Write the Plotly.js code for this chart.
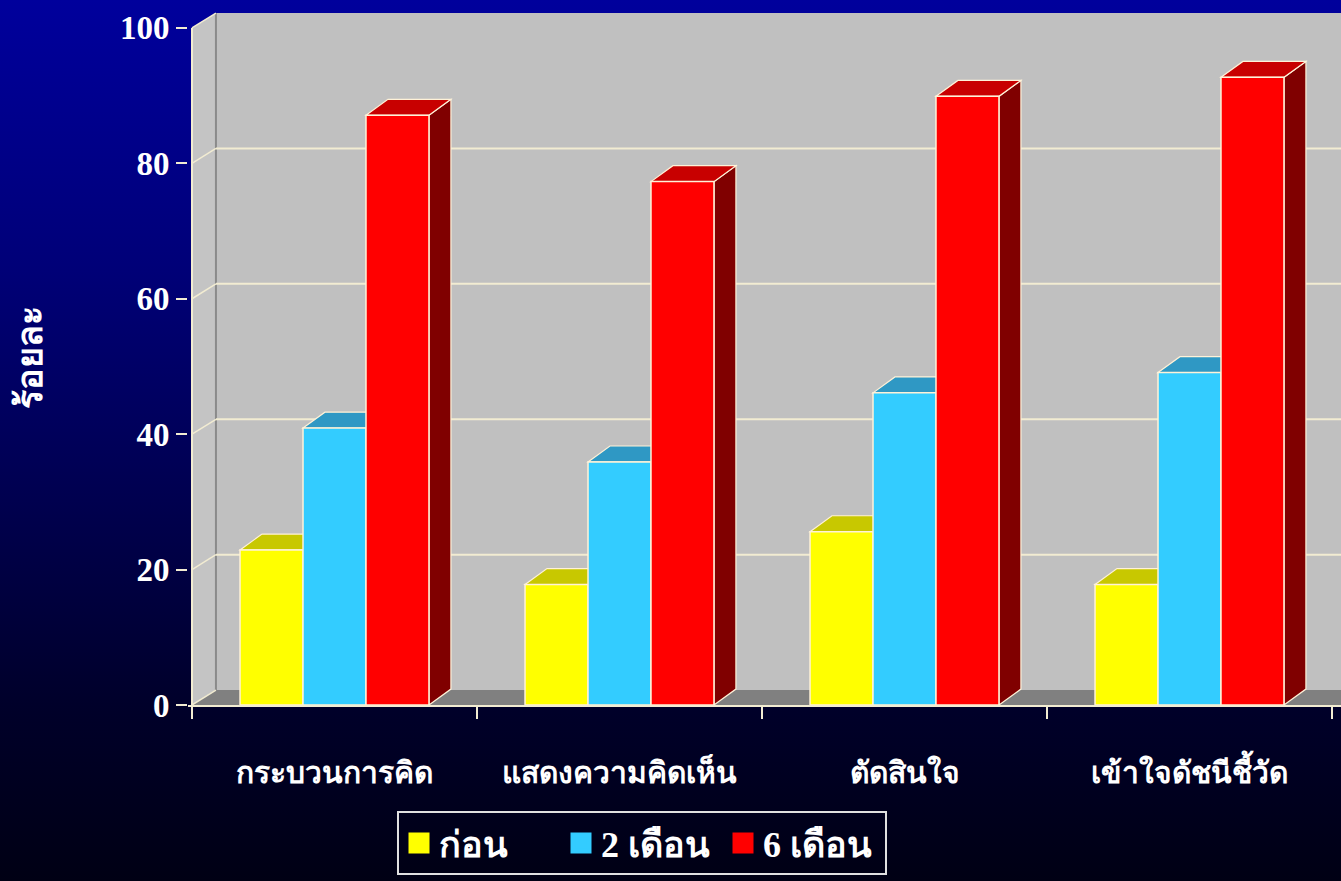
<!DOCTYPE html>
<html>
<head>
<meta charset="utf-8">
<script src="https://cdn.plot.ly/plotly-3.0.1.min.js"></script>
<style>
  html, body { margin: 0; padding: 0; }
  body { width: 1341px; height: 881px; overflow: hidden;
         background: linear-gradient(to bottom, #00009c 0%, #000078 30%, #00004a 60%, #00002a 80%, #000014 100%); }
  #chart { width: 1341px; height: 881px; }
</style>
</head>
<body>
<div id="chart"></div>
<script>
// ---- data ----
const categories = ['กระบวนการคิด', 'แสดงความคิดเห็น', 'ตัดสินใจ', 'เข้าใจดัชนีชี้วัด'];
const seriesNames = ['ก่อน', '2 เดือน', '6 เดือน'];
const before = [22.9, 17.8, 25.6, 17.8];
const twoMonths = [40.9, 35.9, 46.1, 49.1];
const sixMonths = [87.1, 77.3, 89.9, 92.7];
const yTicks = [0, 20, 40, 60, 80, 100];
const yTitle = 'ร้อยละ';

// ---- style ----
const frontColors = ['#FFFF00', '#33CCFF', '#FF0000'];
const topColors = ['#C8C800', '#2F98C4', '#C80000'];
const sideColors = ['#999900', '#1F7FA8', '#800000'];
const edge = '#FFF2D8';
const cream = '#F2ECD2';
const W = 0.221, OFF0 = -0.3315;       // bar width / first bar offset (category units)
const DXB = 0.077, DYB = 2.35;          // bar depth
const DXW = 0.084, DYW = 2.2;           // wall depth
const XL = -0.5, XR = 4.2;
const font = 'Liberation Serif, "Times New Roman", serif';
const PLOT_H = 694;

const allSeries = [before, twoMonths, sixMonths];
const xIdx = categories.map((c, i) => i);

const traces = allSeries.map((vals, k) => ({
  type: 'bar',
  name: seriesNames[k],
  x: xIdx,
  y: vals,
  width: W,
  offset: OFF0 + k * W,
  marker: { color: frontColors[k], line: { color: edge, width: 1.5 } },
  showlegend: false,
  hoverinfo: 'y+name'
}));
// legend proxies (large square swatches)
seriesNames.forEach((n, k) => {
  traces.push({
    type: 'scatter', mode: 'markers', name: n,
    x: [null], y: [null],
    marker: { symbol: 'square', size: 16, color: frontColors[k], line: { color: frontColors[k], width: 5 } },
    hoverinfo: 'skip'
  });
});

const shapes = [];
// back wall
shapes.push({ type: 'rect', xref: 'x', yref: 'y', layer: 'below',
  x0: XL + DXW, x1: XR, y0: DYW, y1: yTicks[yTicks.length - 1] + DYW,
  fillcolor: '#C0C0C0', line: { width: 0 } });
// side wall
shapes.push({ type: 'path', xref: 'x', yref: 'y', layer: 'below',
  path: `M${XL},0 L${XL + DXW},${DYW} L${XL + DXW},${100 + DYW} L${XL},100 Z`,
  fillcolor: '#C4C4C4', line: { width: 0 } });
// floor
shapes.push({ type: 'path', xref: 'x', yref: 'y', layer: 'below',
  path: `M${XL},0 L${XL + DXW},${DYW} L${XR},${DYW} L${XR},0 Z`,
  fillcolor: '#808080', line: { width: 0 } });
// wall corner
shapes.push({ type: 'line', xref: 'x', yref: 'y', layer: 'below',
  x0: XL + DXW, x1: XL + DXW, y0: DYW, y1: 100 + DYW,
  line: { color: '#8A8A8A', width: 2 } });
// gridlines on back wall + diagonals on side wall
yTicks.forEach(v => {
  if (v > 0 && v < 100) {
    shapes.push({ type: 'line', xref: 'x', yref: 'y', layer: 'below',
      x0: XL + DXW, x1: XR, y0: v + DYW, y1: v + DYW, line: { color: cream, width: 2 } });
  }
  shapes.push({ type: 'line', xref: 'x', yref: 'y', layer: 'below',
    x0: XL, x1: XL + DXW, y0: v, y1: v + DYW, line: { color: cream, width: 1.5 } });
});
// bar tops and sides
allSeries.forEach((vals, k) => {
  vals.forEach((v, i) => {
    const xl = i + OFF0 + k * W, xr = xl + W;
    shapes.push({ type: 'path', xref: 'x', yref: 'y', layer: 'below',
      path: `M${xr},0 L${xr + DXB},${DYB} L${xr + DXB},${v + DYB} L${xr},${v} Z`,
      fillcolor: sideColors[k], line: { color: edge, width: 1.2 } });
    shapes.push({ type: 'path', xref: 'x', yref: 'y', layer: 'below',
      path: `M${xl},${v} L${xl + DXB},${v + DYB} L${xr + DXB},${v + DYB} L${xr},${v} Z`,
      fillcolor: topColors[k], line: { color: edge, width: 1.2 } });
  });
});
// front value axis line
shapes.push({ type: 'line', xref: 'x', yref: 'y', layer: 'above',
  x0: XL, x1: XL, y0: 0, y1: 100, line: { color: cream, width: 2 } });
// category boundary tick marks below the axis
for (let b = 0; b <= categories.length; b++) {
  shapes.push({ type: 'line', xref: 'x', yref: 'paper', layer: 'above',
    x0: b - 0.5, x1: b - 0.5, y0: 0, y1: -14 / PLOT_H,
    line: { color: cream, width: 2 } });
}

const xRange = [XL - 4 / 285, XL - 4 / 285 + 1153 / 285];

const layout = {
  width: 1341, height: 881,
  margin: { l: 188, r: 0, t: 11, b: 176 },
  paper_bgcolor: 'rgba(0,0,0,0)',
  plot_bgcolor: 'rgba(0,0,0,0)',
  barmode: 'overlay',
  showlegend: true,
  xaxis: {
    range: xRange,
    tickvals: xIdx, ticktext: categories,
    ticks: '', showgrid: false, zeroline: false,
    showline: true, linecolor: cream, linewidth: 2,
    ticklabelstandoff: 40,
    tickfont: { family: font, size: 30, color: '#FFFFFF', weight: 'bold' },
    fixedrange: true
  },
  yaxis: {
    range: [0, 102.5],
    tickvals: yTicks,
    ticks: 'outside', ticklen: 11, tickwidth: 2, tickcolor: cream,
    showgrid: false, zeroline: false, showline: false,
    tickfont: { family: font, size: 33, color: '#FFFFFF', weight: 'bold' },
    title: { text: yTitle, standoff: 66,
             font: { family: font, size: 36, color: '#FFFFFF', weight: 'bold' } },
    fixedrange: true
  },
  legend: {
    orientation: 'h', x: (397 - 188) / 1153, y: -(811 - 705) / PLOT_H,
    xanchor: 'left', yanchor: 'top',
    itemsizing: 'trace', entrywidth: 117,
    bgcolor: 'rgba(0,0,0,0)', bordercolor: '#E0E0E0', borderwidth: 2,
    font: { family: font, size: 36, color: '#FFFFFF', weight: 'bold' },
    itemclick: false, itemdoubleclick: false
  },
  shapes: shapes
};

Plotly.newPlot('chart', traces, layout, { displayModeBar: false });
</script>
</body>
</html>
